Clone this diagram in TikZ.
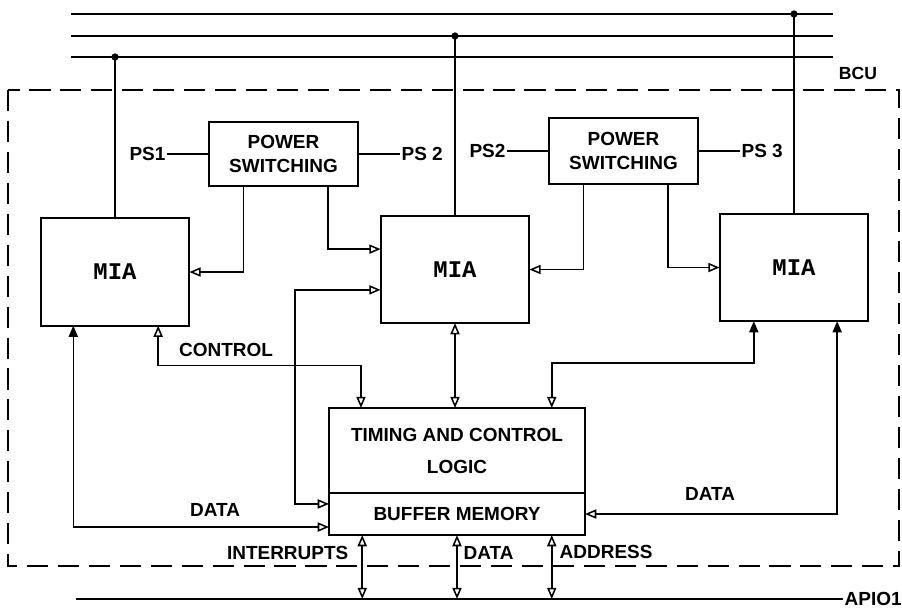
\documentclass[tikz,border=0pt]{standalone}
\usepackage{fontspec}
\setmainfont{Liberation Sans}
\newfontfamily\miafont{Liberation Mono}
\usetikzlibrary{arrows.meta, calc, positioning}

\tikzset{
  blk/.style={draw, line width=1.4pt, inner sep=0pt, outer sep=0pt, align=center,
    font=\bfseries\fontsize{13.5}{17.7}\selectfont},
  mia/.style={blk, minimum width=3.72cm, minimum height=2.68cm,
    font=\miafont\bfseries\fontsize{17}{19}\selectfont},
  wire/.style={line width=1.1pt},
  lbl/.style={font=\bfseries\fontsize{13.5}{17}\selectfont, inner sep=1pt},
  >={Triangle[open, length=8pt, width=6.5pt]},
  fd/.style={{Triangle[length=8pt, width=6.5pt]}-{Triangle[open, length=8pt, width=6.5pt]}}
}

\begin{document}
\begin{tikzpicture}[x=0.025cm, y=-0.025cm]
  \useasboundingbox (0,0) rectangle (902,608);

  % Bus lines
  \coordinate (b1w) at (71,14);  \coordinate (b1e) at (833,14);
  \coordinate (b2w) at (71,36);  \coordinate (b2e) at (833,36);
  \coordinate (b3w) at (71,57);  \coordinate (b3e) at (833,57);
  \draw[wire] (b1w) -- (b1e);
  \draw[wire] (b2w) -- (b2e);
  \draw[wire] (b3w) -- (b3e);

  % BCU boundary
  \draw[line width=1.3pt, dash pattern=on 15pt off 7pt] (8,90) rectangle (899,566);
  \node[lbl, font=\bfseries\fontsize{12.5}{14}\selectfont] (bcu) at (858,73) {BCU};

  % Power switching
  \node[blk, minimum width=3.72cm, minimum height=1.6cm] (psw1) at (283.5,154) {POWER\\SWITCHING};
  \node[blk, minimum width=3.72cm, minimum height=1.65cm] (psw2) at (623.5,151) {POWER\\SWITCHING};
  \node[lbl, left=1.05cm of psw1] (ps1) {PS1};
  \node[lbl, right=1.05cm of psw1] (ps2a) {PS 2};
  \node[lbl, left=1.05cm of psw2] (ps2b) {PS2};
  \node[lbl, right=1.05cm of psw2] (ps3) {PS 3};
  \draw[wire] (ps1) -- (psw1);
  \draw[wire] (psw1) -- (ps2a);
  \draw[wire] (ps2b) -- (psw2);
  \draw[wire] (psw2) -- (ps3);

  % MIA units
  \node[mia] (mia1) at (115,272) {MIA};
  \node[mia] (mia2) at (455,269.5) {MIA};
  \node[mia] (mia3) at (794,267.5) {MIA};

  % Timing, control and buffer
  \node[blk, minimum width=6.4cm, minimum height=2.125cm,
    font=\bfseries\fontsize{13.5}{22.7}\selectfont] (tcl) at (457,450.5) {TIMING AND CONTROL\\LOGIC};
  \node[blk, minimum width=6.4cm, minimum height=1.05cm, below=0pt of tcl] (buf) {BUFFER MEMORY};

  % Bus taps
  \coordinate (t1) at (mia1.north |- b3w);
  \coordinate (t2) at (mia2.north |- b2w);
  \coordinate (t3) at (mia3.north |- b1w);
  \draw[wire] (mia1.north) -- (t1);
  \draw[wire] (mia2.north) -- (t2);
  \draw[wire] (mia3.north) -- (t3);
  \foreach \t in {t1,t2,t3} \fill (\t) circle (2.6pt);

  % Power to MIA
  \draw[wire,->] ($(psw1.south west)!0.23!(psw1.south east)$) |- (mia1.east);
  \draw[wire,->] ($(psw1.south west)!0.8!(psw1.south east)$) |- ($(mia2.north west)!0.31!(mia2.south west)$);
  \draw[wire,->] ($(psw2.south west)!0.23!(psw2.south east)$) |- (mia2.east);
  \draw[wire,->] ($(psw2.south west)!0.8!(psw2.south east)$) |- (mia3.west);

  % MIA 2 to buffer
  \coordinate (m2in) at ($(mia2.north west)!0.69!(mia2.south west)$);
  \coordinate (bufin) at ($(buf.north west)!0.26!(buf.south west)$);
  \draw[wire,<->] (m2in) -| ($(bufin)+(-34,0)$) -- (bufin);

  % Control
  \coordinate (m1c) at ($(mia1.south west)!0.79!(mia1.south east)$);
  \coordinate (tc1) at ($(tcl.north west)!0.125!(tcl.north east)$);
  \draw[wire,<->] (m1c) -- ++(0,40) -| (tc1);
  \node[lbl] (ctl) at (226,350) {CONTROL};

  % Data from MIA 1
  \coordinate (m1d) at ($(mia1.south west)!0.22!(mia1.south east)$);
  \coordinate (bufd) at ($(buf.north west)!0.81!(buf.south west)$);
  \draw[wire,fd] (m1d) |- (bufd);
  \node[lbl] (dat1) at (215,510) {DATA};

  % MIA 2 to timing
  \draw[wire,<->] (mia2.south) -- (mia2.south |- tcl.north);

  % MIA 3 to timing and buffer
  \coordinate (m3c) at ($(mia3.south west)!0.23!(mia3.south east)$);
  \coordinate (tc2) at ($(tcl.north west)!0.87!(tcl.north east)$);
  \draw[wire,fd] (m3c) -- ++(0,42) -| (tc2);
  \coordinate (m3d) at ($(mia3.south west)!0.79!(mia3.south east)$);
  \draw[wire,fd] (m3d) |- (buf.east);
  \node[lbl] (dat3) at (710,494) {DATA};

  % APIO1 bus
  \coordinate (aw) at (76,599);
  \coordinate (ae) at (843,599);
  \draw[wire] (aw) -- (ae);
  \node[lbl, anchor=west] (apio) at (ae) {APIO1};
  \foreach \f/\nm in {0.13/int,0.5/dat,0.87/adr} {
    \coordinate (\nm) at ($(buf.south west)!\f!(buf.south east)$);
    \draw[wire,<->] (\nm) -- (\nm |- aw);
  }
  \node[lbl, anchor=east] (intl) at (350,553) {INTERRUPTS};
  \node[lbl, anchor=west] (datl) at (462,553) {DATA};
  \node[lbl, anchor=west] (adrl) at (558,552) {ADDRESS};
\end{tikzpicture}
\end{document}
